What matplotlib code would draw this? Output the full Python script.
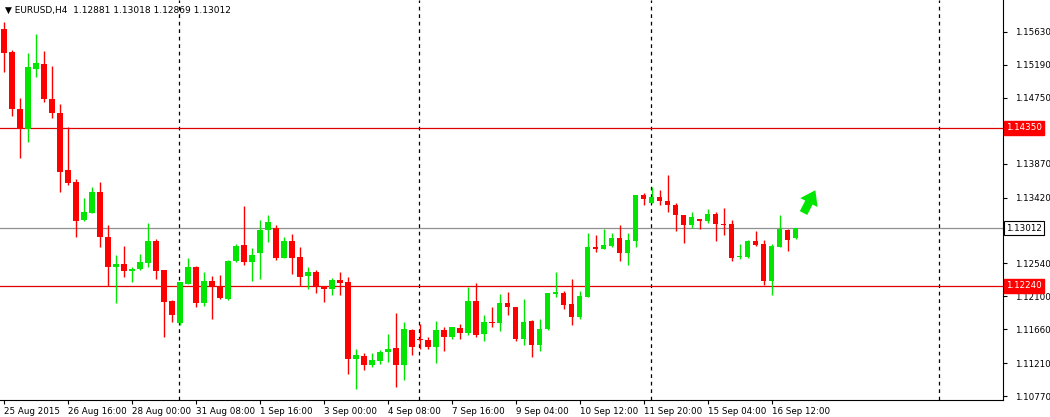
import matplotlib
matplotlib.use("Agg")
import matplotlib.pyplot as plt
from matplotlib.patches import Rectangle

opens = [1.1567,1.1536,1.1460,1.1434,1.1514,1.1520,1.1474,1.1455,1.1379,1.1363,
         1.1312,1.1321,1.1349,1.1289,1.1249,1.1253,1.1244,1.1247,1.1255,1.1284,
         1.1245,1.1204,1.1175,1.1227,1.1249,1.1201,1.1231,1.1223,1.1207,1.1257,
         1.1279,1.1256,1.1268,1.1299,1.1301,1.1261,1.1284,1.1263,1.1237,1.1243,
         1.1224,1.1220,1.1232,1.1229,1.1126,1.1131,1.1118,1.1124,1.1136,1.1141,
         1.1118,1.1165,1.1153,1.1152,1.1142,1.1165,1.1156,1.1168,1.1161,1.1204,
         1.1160,1.1176,1.1175,1.1201,1.1196,1.1153,1.1177,1.1145,1.1166,1.1213,
         1.1215,1.1200,1.1182,1.1209,1.1276,1.1273,1.1277,1.1288,1.1268,1.1284,
         1.1345,1.1335,1.1343,1.1337,1.1332,1.1319,1.1305,1.1313,1.1311,1.1320,
         1.1307,1.1307,1.1263,1.1263,1.1284,1.1280,1.1231,1.1276,1.1299,1.12881]
highs = [1.1576,1.1539,1.1475,1.1535,1.1560,1.1538,1.1518,1.1467,1.1436,1.1367,
         1.1341,1.1356,1.1363,1.1305,1.1265,1.1277,1.1249,1.1267,1.1308,1.1287,
         1.1245,1.1205,1.1229,1.1261,1.1251,1.1243,1.1237,1.1238,1.1259,1.1280,
         1.1331,1.1275,1.1312,1.1319,1.1305,1.1289,1.1293,1.1276,1.1249,1.1245,
         1.1224,1.1235,1.1243,1.1236,1.1140,1.1134,1.1134,1.1139,1.1160,1.1188,
         1.1176,1.1166,1.1173,1.1156,1.1177,1.1169,1.1169,1.1173,1.1223,1.1228,
         1.1185,1.1196,1.1213,1.1216,1.1196,1.1207,1.1179,1.1180,1.1215,1.1243,
         1.1217,1.1233,1.1217,1.1295,1.1292,1.1300,1.1295,1.1305,1.1295,1.1345,
         1.1348,1.1356,1.1352,1.1372,1.1335,1.1319,1.1323,1.1313,1.1327,1.1323,
         1.1328,1.1312,1.1280,1.1285,1.1297,1.1285,1.1280,1.1319,1.1300,1.13018]
lows = [1.1510,1.1451,1.1395,1.1416,1.1503,1.1470,1.1448,1.1349,1.1359,1.1289,
        1.1311,1.1321,1.1276,1.1224,1.1201,1.1236,1.1229,1.1245,1.1249,1.1233,
        1.1156,1.1176,1.1172,1.1227,1.1196,1.1197,1.1180,1.1207,1.1205,1.1256,
        1.1252,1.1231,1.1233,1.1283,1.1259,1.1261,1.1240,1.1224,1.1220,1.1215,
        1.1203,1.1212,1.1212,1.1106,1.1086,1.1112,1.1116,1.1120,1.1122,1.1089,
        1.1098,1.1132,1.1140,1.1140,1.1121,1.1137,1.1153,1.1153,1.1158,1.1156,
        1.1150,1.1169,1.1164,1.1185,1.1150,1.1145,1.1129,1.1137,1.1165,1.1209,
        1.1193,1.1172,1.1180,1.1209,1.1269,1.1273,1.1276,1.1257,1.1252,1.1276,
        1.1332,1.1335,1.1332,1.1323,1.1297,1.1281,1.1301,1.1300,1.1308,1.1284,
        1.1292,1.1257,1.1260,1.1261,1.1277,1.1225,1.1212,1.1276,1.1271,1.12869]
closes = [1.1535,1.1460,1.1434,1.1516,1.1522,1.1474,1.1455,1.1376,1.1361,1.1311,
          1.1323,1.1349,1.1289,1.1249,1.1253,1.1244,1.1247,1.1256,1.1284,1.1244,
          1.1203,1.1185,1.1229,1.1249,1.1201,1.1231,1.1224,1.1208,1.1257,1.1277,
          1.1256,1.1265,1.1299,1.1309,1.1261,1.1284,1.1261,1.1236,1.1243,1.1224,
          1.1220,1.1232,1.1228,1.1126,1.1132,1.1118,1.1125,1.1136,1.1140,1.1118,
          1.1166,1.1142,1.1152,1.1142,1.1165,1.1156,1.1169,1.1161,1.1204,1.1158,
          1.1176,1.1175,1.1201,1.1196,1.1153,1.1176,1.1145,1.1166,1.1215,1.1216,
          1.1199,1.1183,1.1211,1.1276,1.1273,1.1279,1.1288,1.1268,1.1285,1.1345,
          1.1340,1.1343,1.1337,1.1332,1.1319,1.1305,1.1316,1.1311,1.1320,1.1307,
          1.1305,1.1261,1.1264,1.1284,1.1279,1.1231,1.1277,1.1300,1.1285,1.13012]

xtick_labels = ["25 Aug 2015","26 Aug 16:00","28 Aug 00:00","31 Aug 08:00","1 Sep 16:00",
                "3 Sep 00:00","4 Sep 08:00","7 Sep 16:00","9 Sep 04:00","10 Sep 12:00",
                "11 Sep 20:00","15 Sep 04:00","16 Sep 12:00"]
ytick_values = [1.15630,1.15190,1.14750,1.13870,1.13420,1.12540,1.12100,1.11660,1.11210,1.10770]
levels_red = [1.14350, 1.12240]
level_last = 1.13012
day_separators = [21.875, 51.875, 80.875, 116.875]

RED = "#ff0000"
GREEN = "#00e600"

fig = plt.figure(figsize=(10.5, 4.17), dpi=100)
ax = fig.add_axes([0.0, 1 - 400/417, 1003/1050, 400/417])
ax.set_xlim(-0.5, 124.9)
ax.set_ylim(1.10717, 1.16057)

for x in day_separators:
    ax.axvline(x, color="black", lw=0.9, ls=(0, (3, 3)), zorder=1)
for lv in levels_red:
    ax.axhline(lv, color="#e00000", lw=0.9, zorder=1)
ax.axhline(level_last, color="#909090", lw=0.9, zorder=1)

w = 0.65
for i, (o, h, l, c) in enumerate(zip(opens, highs, lows, closes)):
    col = GREEN if c >= o else RED
    ax.plot([i, i], [l, h], color=col, lw=1.0, zorder=2, solid_capstyle="butt")
    lo, hi = min(o, c), max(o, c)
    ax.add_patch(Rectangle((i - w/2, lo), w, max(hi - lo, 0.00008), color=col, lw=0, zorder=3))

ax.annotate("", xy=(101.6, 1.1355), xytext=(99.8, 1.1318),
            arrowprops=dict(arrowstyle="simple,head_width=1.4,head_length=1.0,tail_width=0.6",
                            color=GREEN, lw=0))

ax.set_xticks(range(0, 8*len(xtick_labels), 8))
ax.set_xticklabels(xtick_labels, fontsize=6.3, ha="left")
for t in ax.get_xticklabels():
    t.set_x(0)
ax.tick_params(axis="x", length=3, pad=2)
ax.yaxis.tick_right()
ax.set_yticks(ytick_values)
ax.set_yticklabels([f"{v:.5f}" for v in ytick_values], fontsize=6.3)
ax.tick_params(axis="y", length=3, pad=6)
for s in ["top", "left"]:
    ax.spines[s].set_visible(False)

for lv in levels_red:
    ax.text(1.0 + 0.003, lv, f"{lv:.5f}", transform=ax.get_yaxis_transform(), fontsize=6.3,
            color="white", va="center", ha="left",
            bbox=dict(boxstyle="square,pad=0.25", fc=RED, ec=RED))
ax.text(1.0 + 0.003, level_last, f"{level_last:.5f}", transform=ax.get_yaxis_transform(), fontsize=6.3,
        color="black", va="center", ha="left",
        bbox=dict(boxstyle="square,pad=0.25", fc="white", ec="black", lw=0.8))

fig.text(0.005, 0.985, "▼ EURUSD,H4  1.12881 1.13018 1.12869 1.13012", fontsize=6.5, va="top", ha="left")
fig.savefig("out.png", dpi=100)
